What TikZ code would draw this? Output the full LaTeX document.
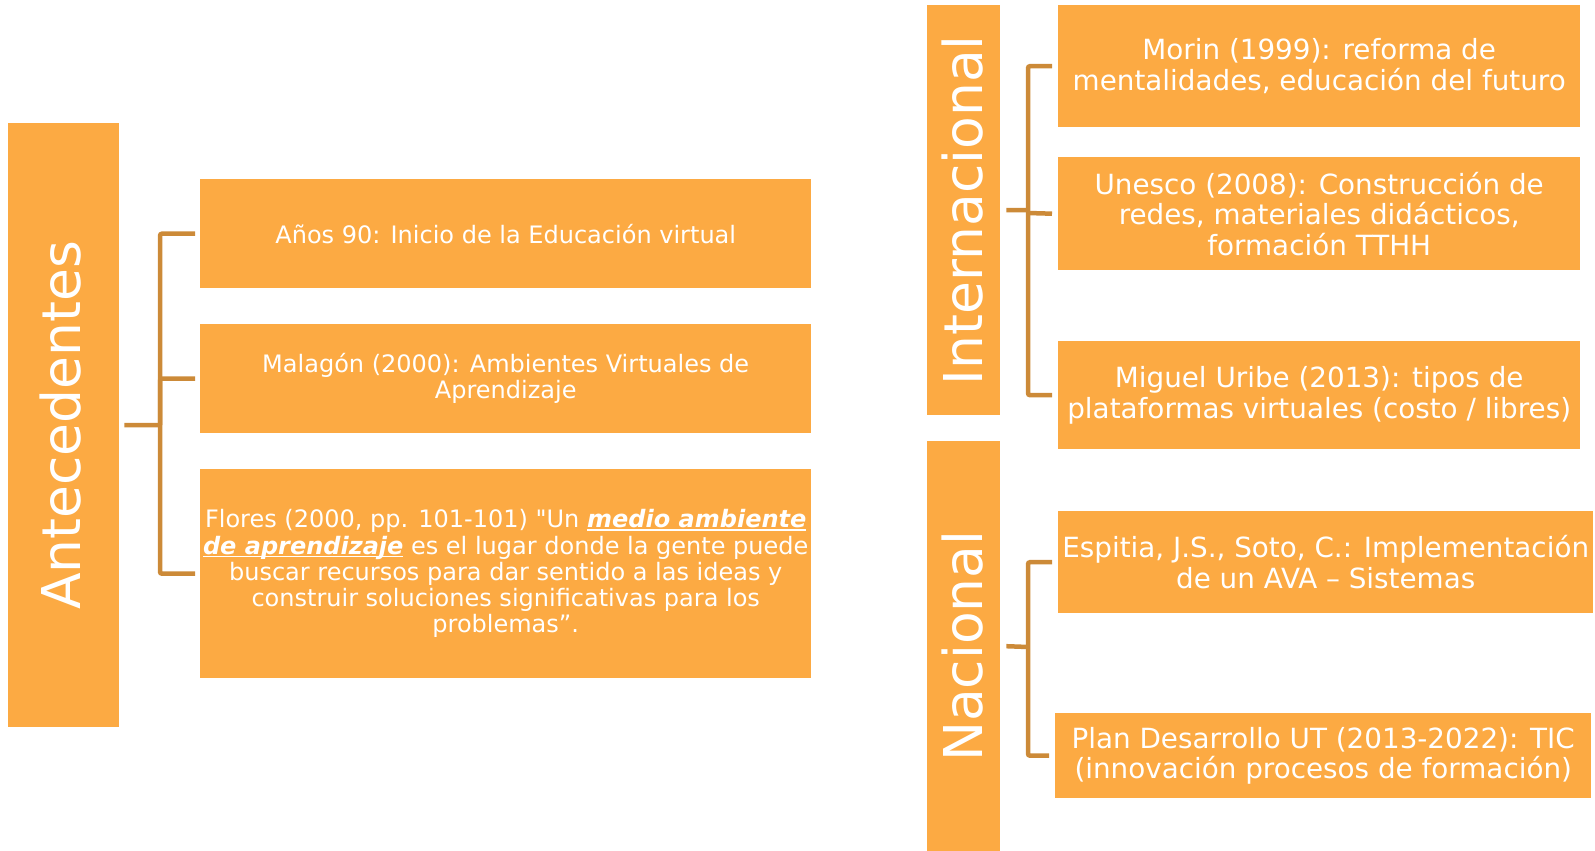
\documentclass[tikz,border=0pt]{standalone}
\usepackage{fontspec}
\setmainfont{DejaVu Sans}[Ligatures=TeXOff]
\definecolor{boxor}{HTML}{FCAA43}
\definecolor{brk}{HTML}{CC8A38}
\tikzset{
  box/.style={fill=boxor, draw=none, inner sep=0pt, text=white, align=center, anchor=north west},
  bar/.style={fill=boxor, draw=none, inner sep=0pt, anchor=north west},
  biglbl/.style={rotate=90, text=white, inner sep=0pt, font=\fontsize{53.5}{60}\selectfont},
  br/.style={draw=brk, line width=4.5pt, rounded corners=2pt},
  ltxt/.style={font=\fontsize{24}{26.2}\selectfont},
  rtxt/.style={font=\fontsize{27.8}{30.5}\selectfont},
}
\newcommand\emu[1]{\leavevmode\setbox0\hbox{\textbf{\textit{#1}}}\rlap{\rule[-3pt]{\wd0}{1.6pt}}\box0\relax}
\begin{document}
\begin{tikzpicture}[x=1pt,y=-1pt]
\useasboundingbox (0,0) rectangle (1595,851);
% left group
\node[bar, minimum width=111pt, minimum height=604pt] (ant) at (8,123) {};
\node[biglbl] (antl) at ([xshift=-3pt]ant.center) {Antecedentes};
\node[box, ltxt, minimum width=611pt, minimum height=109pt] (a1) at (200,179)
  {Años 90: Inicio de la Educación virtual};
\node[box, ltxt, minimum width=611pt, minimum height=109pt] (a2) at (200,324)
  {Malagón (2000): Ambientes Virtuales de\\Aprendizaje};
\node[box, ltxt, minimum width=611pt, minimum height=209pt] (a3) at (200,469)
  {Flores (2000, pp. 101-101) "Un \emu{medio ambiente}\\
   \emu{de aprendizaje} es el lugar donde la gente puede\\
   buscar recursos para dar sentido a las ideas y\\
   construir soluciones significativas para los\\
   problemas”.};
\coordinate (aj) at (160,425);
\draw[br] ([xshift=-5pt]a1.west) -| (aj) |- ([xshift=-5pt]a3.west);
\draw[br] (aj) |- ([xshift=-5pt]a2.west);
\draw[br] ([xshift=5pt]ant.east) -- (aj);
% internacional
\node[bar, minimum width=73pt, minimum height=410pt] (int) at (927,5) {};
\node[biglbl] (intl) at ([xshift=-1pt]int.center) {Internacional};
\node[box, rtxt, minimum width=522pt, minimum height=122pt] (i1) at (1058,5)
  {Morin (1999): reforma de\\mentalidades, educación del futuro};
\node[box, rtxt, minimum width=522pt, minimum height=113pt] (i2) at (1058,157)
  {Unesco (2008): Construcción de\\redes, materiales didácticos,\\formación TTHH};
\node[box, rtxt, minimum width=522pt, minimum height=108pt] (i3) at (1058,341)
  {Miguel Uribe (2013): tipos de\\plataformas virtuales (costo / libres)};
\coordinate (ij) at (1028,210);
\draw[br] ([xshift=-6pt]i1.west) -| (ij) |- ([xshift=-6pt]i3.west);
\draw[br] ([xshift=6pt]int.east) -- (ij);
\draw[br] (1028,213) -- ([xshift=-6pt]i2.west);
% nacional
\node[bar, minimum width=73pt, minimum height=410pt] (nac) at (927,441) {};
\node[biglbl] (nacl) at ([xshift=-1pt]nac.center) {Nacional};
\node[box, rtxt, minimum width=535pt, minimum height=102pt] (n1) at (1058,511)
  {Espitia, J.S., Soto, C.: Implementación\\de un AVA – Sistemas};
\node[box, rtxt, minimum width=536pt, minimum height=85pt] (n2) at (1055,713)
  {Plan Desarrollo UT (2013-2022): TIC\\(innovación procesos de formación)};
\coordinate (nj) at (1028,647);
\draw[br] ([xshift=-6pt]n1.west) -| (nj) |- ([xshift=-6pt]n2.west);
\draw[br] ([xshift=6pt]nac.east) -- (nj);
\end{tikzpicture}
\end{document}
